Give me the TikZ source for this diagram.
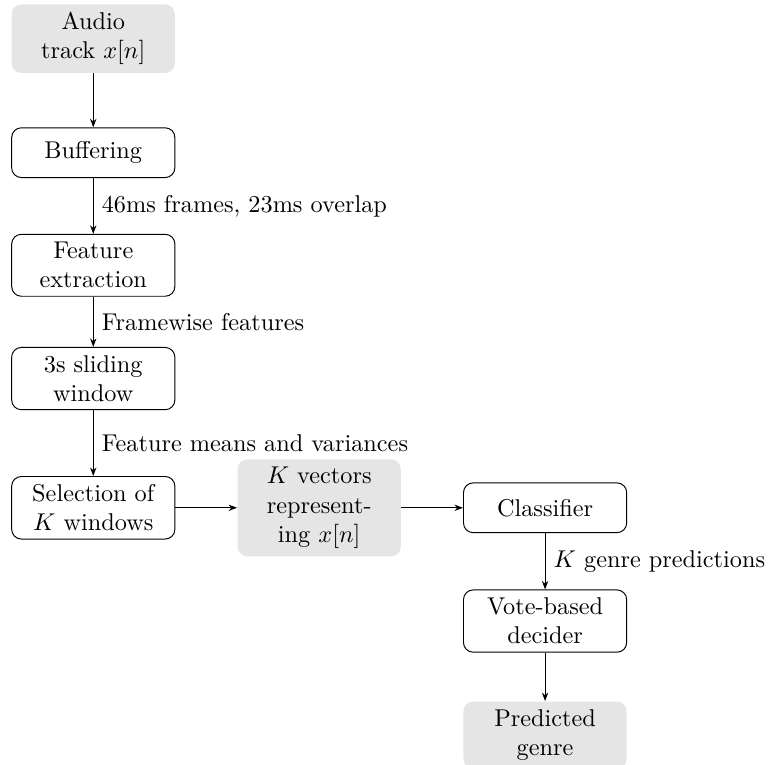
\documentclass[tikz,border=0pt]{standalone}
\usepackage{amsmath, amssymb}
\usetikzlibrary{arrows.meta, positioning}
\usepackage{xcolor}

\begin{document}
\begin{tikzpicture}[
    block/.style={draw, rounded corners, text width=1.8cm, align=center,
      inner xsep=8pt, inner ysep=3.3pt, minimum height=0.72cm},
    io/.style={block, draw=none, fill=gray!20},
    >={Stealth[length=3.5pt, width=2.6pt]}
  ]
  \useasboundingbox (-1.35,0.56) rectangle (9.81,-10.5);

  % left column
  \node[io] (audio) at (0,0) {Audio track $x[n]$};
  \node[block] (buffer) at (0,-1.65) {Buffering};
  \node[block] (feat) at (0,-3.28) {Feature extraction};
  \node[block] (window) at (0,-4.92) {3s sliding window};
  \node[block] (select) at (0,-6.79) {Selection of $K$ windows};

  % middle and right column
  \node[io] (vectors) at (3.27,-6.79) {$K$ vectors representing $x[n]$};
  \node[block] (classifier) at (6.54,-6.79) {Classifier};
  \node[block] (vote) at (6.54,-8.43) {Vote-based decider};
  \node[io] (genre) at (6.54,-10.08) {Predicted genre};

  \draw[->] (audio) -- (buffer);
  \draw[->] (buffer) -- (feat) node[midway, right] {46ms frames, 23ms overlap};
  \draw[->] (feat) -- (window) node[midway, right] {Framewise features};
  \draw[->] (window) -- (select) node[midway, right] {Feature means and variances};
  \draw[->] (select) -- (vectors);
  \draw[->] (vectors) -- (classifier);
  \draw[->] (classifier) -- (vote) node[midway, right] {$K$ genre predictions};
  \draw[->] (vote) -- (genre);
\end{tikzpicture}
\end{document}
